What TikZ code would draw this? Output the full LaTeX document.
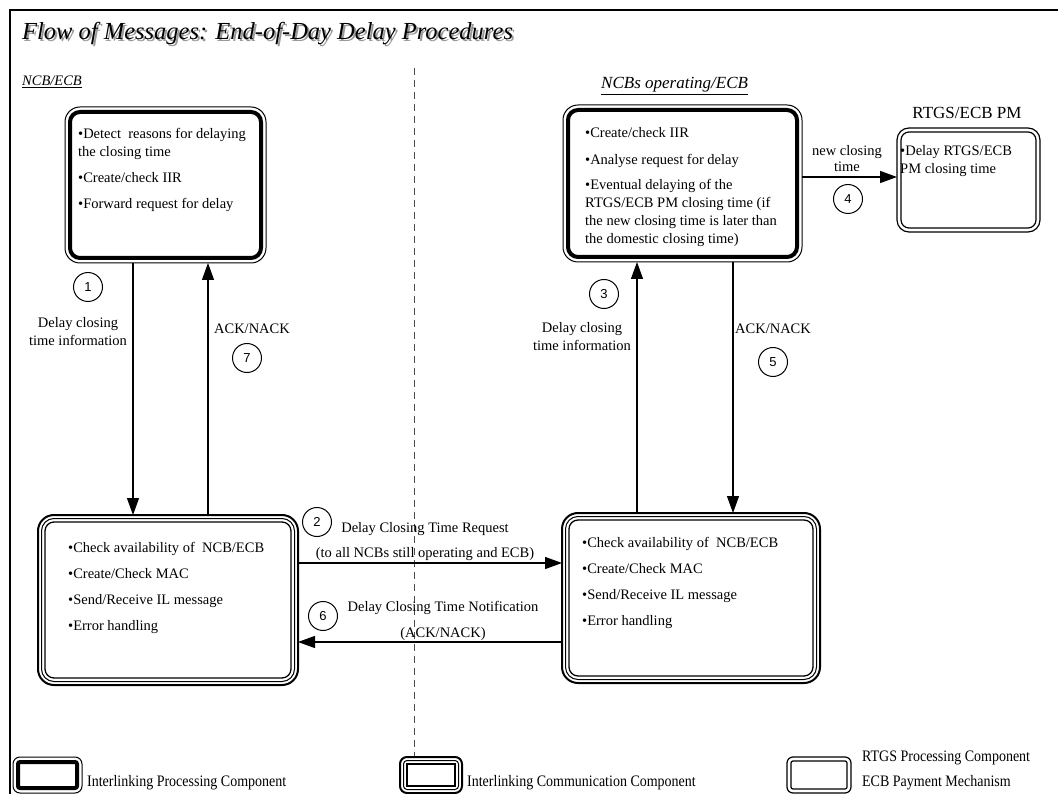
\documentclass[tikz,border=0pt]{standalone}
\usepackage{fontspec}
\setmainfont{Liberation Serif}
\setsansfont{Liberation Sans}
\usetikzlibrary{arrows.meta}

\newcommand\TabL[1]{\begin{tabular}[t]{@{}l@{}}#1\end{tabular}}
\newcommand\TabC[1]{\begin{tabular}[t]{@{}c@{}}#1\end{tabular}}

\tikzset{
  boxbase/.style={rectangle, inner sep=0pt, outer sep=0pt},
  arr/.style={line width=1.2pt, -{Triangle[length=17pt,width=12pt]}},
  num/.style={circle, draw, line width=1pt, minimum size=29pt, inner sep=0pt, font=\sffamily\fontsize{13}{15}\selectfont},
  lbl/.style={anchor=base, inner sep=0pt, font=\fontsize{14.5}{18}\selectfont},
  boxtext/.style={anchor=base west, inner sep=0pt, font=\fontsize{14.5}{18}\selectfont},
  legtext/.style={anchor=base west, inner sep=0pt, xscale=0.875, font=\fontsize{16}{18}\selectfont},
  header/.style={anchor=base west, inner sep=0pt, font=\itshape\fontsize{14.5}{16}\selectfont},
}

% name, radius, x1, y1, x2, y2
\newcommand\ProcBox[6]{%
  \node[boxbase, draw, line width=1pt, rounded corners=#2pt,
        minimum width={(#5-#3)*1pt}, minimum height={(#6-#4)*1pt}]
        (#1) at ({(#3+#5)/2},{(#4+#6)/2}) {};
  \draw[line width=4pt, rounded corners={(#2-5)*1pt}]
        ([xshift=5pt,yshift=-5pt]#1.north west) rectangle ([xshift=-5pt,yshift=5pt]#1.south east);
}
\newcommand\CommBox[6]{%
  \node[boxbase, draw, line width=2pt, rounded corners=#2pt,
        minimum width={(#5-#3)*1pt}, minimum height={(#6-#4)*1pt}]
        (#1) at ({(#3+#5)/2},{(#4+#6)/2}) {};
  \draw[line width=1pt, rounded corners={(#2-3.5)*1pt}]
        ([xshift=3.5pt,yshift=-3.5pt]#1.north west) rectangle ([xshift=-3.5pt,yshift=3.5pt]#1.south east);
  \draw[line width=1.3pt, rounded corners={(#2-7)*1pt}]
        ([xshift=7pt,yshift=-7pt]#1.north west) rectangle ([xshift=-7pt,yshift=7pt]#1.south east);
}
\newcommand\RtgsBox[6]{%
  \node[boxbase, draw, line width=1.2pt, rounded corners=#2pt,
        minimum width={(#5-#3)*1pt}, minimum height={(#6-#4)*1pt}]
        (#1) at ({(#3+#5)/2},{(#4+#6)/2}) {};
  \draw[line width=1.2pt, rounded corners={(#2-4)*1pt}]
        ([xshift=4pt,yshift=-4pt]#1.north west) rectangle ([xshift=-4pt,yshift=4pt]#1.south east);
}

\begin{document}
\begin{tikzpicture}[x=1pt,y=-1pt]
\useasboundingbox (0,0) rectangle (1058,794);
\fill[white] (0,0) rectangle (1058,794);

% frame
\draw[line width=2pt] (10,800) -- (10,10) -- (1065,10);

% title with shadow
\node[anchor=base west, inner sep=0pt, text=black!40, font=\itshape\fontsize{24.5}{28}\selectfont] (titleshadow) at (24,42) {Flow of Messages: End-of-Day Delay Procedures};
\node[anchor=base west, inner sep=0pt, font=\itshape\fontsize{24.5}{28}\selectfont] (title) at (22,40) {Flow of Messages: End-of-Day Delay Procedures};

% headers
\node[header] (h1) at (22,86) {\underline{NCB/ECB}};
\node[header, font=\itshape\fontsize{17}{19}\selectfont] (h2) at (601,89) {\underline{NCBs operating/ECB}};
\node[anchor=base, inner sep=0pt, font=\fontsize{17}{20}\selectfont] (h3) at (967,119) {RTGS/ECB PM};

% separator
\draw[dashed, dash pattern=on 7pt off 5pt, line width=0.8pt, black!70] (414,68) -- (414,756);

% boxes
\ProcBox{A}{15}{65}{107}{266}{263}
\ProcBox{B}{15}{563}{105}{802}{262}
\RtgsBox{C}{12}{897}{128}{1040}{232}
\CommBox{D}{16}{38}{515}{298}{685}
\CommBox{E}{16}{562}{513}{820}{683}

% box texts
\node[boxtext] (tA) at (78,139) {\TabL{•Detect\ \ reasons for delaying\\the closing time\\[8pt]•Create/check IIR\\[8pt]•Forward request for delay}};
\node[boxtext] (tB) at (585,138) {\TabL{•Create/check IIR\\[9pt]•Analyse request for delay\\[7pt]•Eventual delaying of the\\RTGS/ECB PM closing time (if\\the new closing time is later than\\the domestic closing time)}};
\node[boxtext] (tC) at (900,156) {\TabL{•Delay RTGS/ECB\\PM closing time}};
\node[boxtext] (tD) at (68,552) {\TabL{•Check availability of\ \ NCB/ECB\\[8pt]•Create/Check MAC\\[8pt]•Send/Receive IL message\\[8pt]•Error handling}};
\node[boxtext] (tE) at (582,547) {\TabL{•Check availability of\ \ NCB/ECB\\[8pt]•Create/Check MAC\\[8pt]•Send/Receive IL message\\[8pt]•Error handling}};

% connector positions
\coordinate (x1) at (133,0);
\coordinate (x7) at (208,0);
\coordinate (x3) at (637,0);
\coordinate (x5) at (733,0);
\coordinate (y4) at (0,177);
\coordinate (y2) at (0,563);
\coordinate (y6) at (0,642);

\draw[arr] (A.south -| x1) -- (D.north -| x1);
\draw[arr] (D.north -| x7) -- (A.south -| x7);
\draw[arr] (E.north -| x3) -- (B.south -| x3);
\draw[arr] (B.south -| x5) -- (E.north -| x5);
\draw[arr] (B.east |- y4) -- (C.west |- y4);
\draw[arr] (D.east |- y2) -- (E.west |- y2);
\draw[arr] (E.west |- y6) -- (D.east |- y6);

% labels
\node[lbl] (l1) at (78,328) {\TabC{Delay closing\\time information}};
\node[lbl] (l7) at (252,334) {ACK/NACK};
\node[lbl] (l3) at (582,333) {\TabC{Delay closing\\time information}};
\node[lbl] (l5) at (773,334) {ACK/NACK};
\node[lbl, font=\fontsize{14.5}{16}\selectfont] (l4) at (847,156) {\TabC{new closing\\time}};
\node[lbl] (l2a) at (425,532) {Delay Closing Time Request};
\node[lbl] (l2b) at (425,557) {(to all NCBs still operating and ECB)};
\node[lbl] (l6a) at (443,611) {Delay Closing Time Notification};
\node[lbl] (l6b) at (443,637) {(ACK/NACK)};

% number circles
\node[num] (n1) at (88,287) {1};
\node[num] (n2) at (317,522) {2};
\node[num] (n3) at (604,294) {3};
\node[num] (n4) at (848,199) {4};
\node[num] (n5) at (773,362) {5};
\node[num] (n6) at (323,616) {6};
\node[num] (n7) at (247,358) {7};

% legend
\ProcBox{L1}{7}{13}{757}{82}{793}
\node[legtext] (lt1) at (87,786) {Interlinking Processing Component};
\CommBox{L2}{7}{400}{757}{462}{793}
\node[legtext] (lt2) at (467,786) {Interlinking Communication Component};
\RtgsBox{L3}{6}{787}{757}{851}{793}
\node[legtext] (lt3a) at (862,761) {RTGS Processing Component};
\node[legtext] (lt3b) at (862,786) {ECB Payment Mechanism};
\end{tikzpicture}
\end{document}
